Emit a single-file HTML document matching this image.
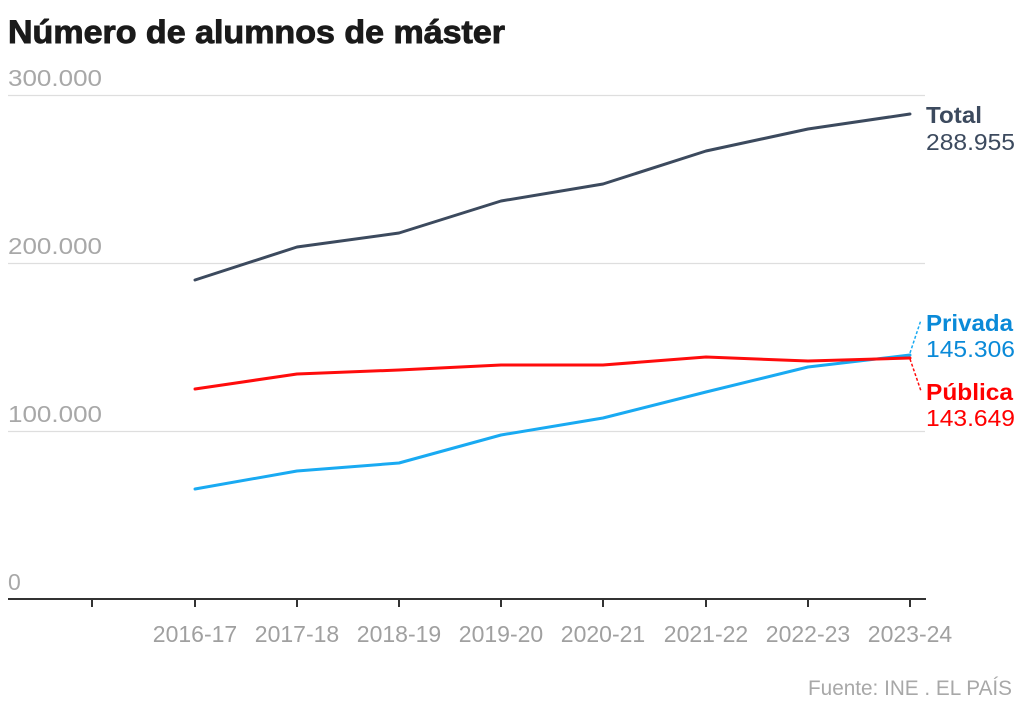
<!DOCTYPE html>
<html><head><meta charset="utf-8"><style>
html,body{margin:0;padding:0;background:#fff;}
svg{display:block;font-family:"Liberation Sans",sans-serif;}
</style></head><body>
<svg width="1024" height="713" viewBox="0 0 1024 713" xmlns="http://www.w3.org/2000/svg">
<text x="8" y="43" font-size="32" font-weight="bold" fill="#1a1a1a" stroke="#1a1a1a" stroke-width="0.9" textLength="497" lengthAdjust="spacingAndGlyphs">Número de alumnos de máster</text>
<g stroke="#dedede" stroke-width="1.2">
<line x1="8" y1="95.5" x2="925" y2="95.5"/>
<line x1="8" y1="263.5" x2="925" y2="263.5"/>
<line x1="8" y1="431.5" x2="925" y2="431.5"/>
</g>
<g font-size="23" fill="#a8a8a8">
<text x="8" y="86" textLength="94" lengthAdjust="spacingAndGlyphs">300.000</text>
<text x="8" y="254" textLength="94" lengthAdjust="spacingAndGlyphs">200.000</text>
<text x="8" y="422" textLength="94" lengthAdjust="spacingAndGlyphs">100.000</text>
<text x="8" y="590">0</text>
</g>
<line x1="8" y1="599" x2="926" y2="599" stroke="#333" stroke-width="2"/>
<g stroke="#333" stroke-width="2">
<line x1="92" y1="599" x2="92" y2="607"/>
<line x1="195" y1="599" x2="195" y2="607"/>
<line x1="297" y1="599" x2="297" y2="607"/>
<line x1="399" y1="599" x2="399" y2="607"/>
<line x1="501" y1="599" x2="501" y2="607"/>
<line x1="603" y1="599" x2="603" y2="607"/>
<line x1="706" y1="599" x2="706" y2="607"/>
<line x1="808" y1="599" x2="808" y2="607"/>
<line x1="910" y1="599" x2="910" y2="607"/>
</g>
<g font-size="23" fill="#a0a0a0" text-anchor="middle">
<text x="195" y="642">2016-17</text>
<text x="297" y="642">2017-18</text>
<text x="399" y="642">2018-19</text>
<text x="501" y="642">2019-20</text>
<text x="603" y="642">2020-21</text>
<text x="706" y="642">2021-22</text>
<text x="808" y="642">2022-23</text>
<text x="910" y="642">2023-24</text>
</g>
<g fill="none" stroke-width="3" stroke-linejoin="round" stroke-linecap="round">
<polyline stroke="#3c4a5e" points="195,280 297,247 399,233 501,201 603,184 706,151 808,129 910,114"/>
<polyline stroke="#19aaf2" points="195,489 297,471 399,463 501,435 603,418 706,392 808,367 910,355"/>
<polyline stroke="#ff0c0c" points="195,389 297,374 399,370 501,365 603,365 706,357 808,361 910,358"/>
</g>
<line x1="910" y1="353" x2="921" y2="320" stroke="#19aaf2" stroke-width="1.5" stroke-dasharray="3,2"/>
<line x1="910" y1="359" x2="921" y2="391" stroke="#ff0c0c" stroke-width="1.5" stroke-dasharray="3,2"/>
<g font-size="23">
<text x="926" y="123" font-weight="bold" fill="#3c4a5e" textLength="56" lengthAdjust="spacingAndGlyphs">Total</text>
<text x="926" y="150" fill="#3c4a5e" textLength="89" lengthAdjust="spacingAndGlyphs">288.955</text>
<text x="926" y="331" font-weight="bold" fill="#0a8ad8" textLength="87" lengthAdjust="spacingAndGlyphs">Privada</text>
<text x="926" y="357" fill="#0a8ad8" textLength="89" lengthAdjust="spacingAndGlyphs">145.306</text>
<text x="926" y="400" font-weight="bold" fill="#f00" textLength="87" lengthAdjust="spacingAndGlyphs">Pública</text>
<text x="926" y="426" fill="#f00" textLength="89" lengthAdjust="spacingAndGlyphs">143.649</text>
</g>
<text x="1012" y="695" font-size="21" fill="#a8a8a8" text-anchor="end" textLength="204" lengthAdjust="spacingAndGlyphs">Fuente: INE . EL PAÍS</text>
</svg>
</body></html>
